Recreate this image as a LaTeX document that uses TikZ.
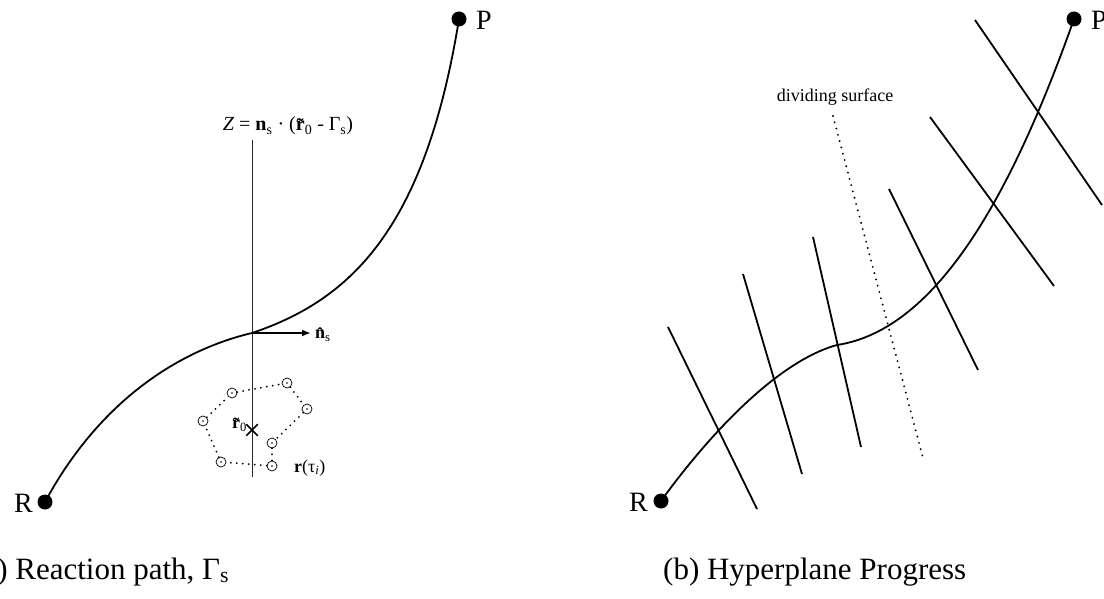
\documentclass[tikz,border=0pt]{standalone}
\usepackage{fontspec}
\setmainfont{Liberation Serif}
\usetikzlibrary{arrows.meta,shapes.misc}
\newcommand\subs[1]{\textsubscript{#1}}
\newcommand\rtil{{\ooalign{\textbf{r}\cr\hidewidth\raisebox{-0.08em}{\textbf{\char"02DC}}\hidewidth\cr}}}
\newcommand\nhat{{\ooalign{\textbf{n}\cr\hidewidth\raisebox{-0.08em}{\textbf{\char"02C6}}\hidewidth\cr}}}
\begin{document}
\begin{tikzpicture}[x=1pt,y=-1pt,
  endpt/.style={circle,fill=black,inner sep=0pt,minimum size=15pt},
  bead/.style={circle,draw,inner sep=0pt,minimum size=10pt,line width=0.7pt,
    path picture={\fill (path picture bounding box.center) circle (0.8pt);}},
  pathline/.style={line width=1.8pt},
  plane/.style={line width=1.8pt},
  ring/.style={line width=2pt,dash pattern=on 0pt off 6pt,line cap=round},
  biglbl/.style={font=\fontsize{28}{32}\selectfont,inner sep=0pt},
  caption/.style={font=\fontsize{31}{36}\selectfont,inner sep=0pt,anchor=base west},
  smalllbl/.style={font=\fontsize{18}{21}\selectfont,inner sep=0pt}]
\useasboundingbox (0,0) rectangle (1104,599);

% ---------- (a) ----------
\node[endpt] (Ra) at (45,502) {};
\node[endpt] (Pa) at (459,19) {};
\node[biglbl,anchor=east] at (33,503) {R};
\node[biglbl,anchor=west] at (476,20) {P};
\coordinate (Ma) at (252,333);
\draw[pathline] (Ra.center) .. controls (100,400) and (180,350) .. (Ma)
  .. controls (350,300) and (425,230) .. (Pa.center);
\coordinate (vtop) at (252,140);
\coordinate (vbot) at (252,477);
\draw[line width=1pt,black!85] (vtop) -- (vbot);
\node[smalllbl,font=\fontsize{20}{23}\selectfont,anchor=base] (zl) at (288,131) {\textit{Z} = \textbf{n}\subs{s} · (\rtil\subs{0} - Γ\subs{s})};
\coordinate (nend) at (311,333);
\draw[line width=1.8pt,-{Latex[length=9pt,width=7pt]}] (Ma) -- (nend);
\node[smalllbl,anchor=west] at (315,336) {\nhat\subs{s}};

\node[bead] (b1) at (232,393) {};
\node[bead] (b2) at (287,383) {};
\node[bead] (b3) at (307,409) {};
\node[bead] (b4) at (272,443) {};
\node[bead] (b5) at (272,466) {};
\node[bead] (b6) at (221,462) {};
\node[bead] (b7) at (203,421) {};
\draw[ring] (b1) -- (b2) -- (b3) -- (b4) -- (b5) -- (b6) -- (b7) -- (b1);
\node[cross out,draw,line width=1.5pt,minimum size=10pt,inner sep=0pt] (x0) at (252,430) {};
\node[smalllbl,anchor=east] at (247,426) {\rtil\subs{0}};
\node[smalllbl,anchor=base west] at (294,472) {\textbf{r}(τ\subs{\textit{i}})};

\node[caption] at (-27,579) {(a) Reaction path, Γ\subs{s}};

% ---------- (b) ----------
\node[endpt] (Rb) at (661,501) {};
\node[endpt] (Pb) at (1074,19) {};
\node[biglbl,anchor=east] at (648,502) {R};
\node[biglbl,anchor=west] at (1091,20) {P};
\coordinate (Mb) at (837,345);
\draw[pathline] (Rb.center) .. controls (705,440) and (775,362) .. (Mb)
  .. controls (935,330) and (1010,200) .. (Pb.center);

\coordinate (h1a) at (668,327); \coordinate (h1b) at (757,509);
\coordinate (h2a) at (743,274); \coordinate (h2b) at (802,474);
\coordinate (h3a) at (813,237); \coordinate (h3b) at (861,447);
\coordinate (h5a) at (889,189); \coordinate (h5b) at (978,370);
\coordinate (h6a) at (930,117); \coordinate (h6b) at (1054,286);
\coordinate (h7a) at (975,20);  \coordinate (h7b) at (1102,205);
\draw[plane] (h1a) -- (h1b);
\draw[plane] (h2a) -- (h2b);
\draw[plane] (h3a) -- (h3b);
\draw[plane] (h5a) -- (h5b);
\draw[plane] (h6a) -- (h6b);
\draw[plane] (h7a) -- (h7b);
\coordinate (da) at (833,116); \coordinate (db) at (923,458);
\draw[line width=2.1pt,dash pattern=on 0pt off 6.5pt,line cap=round] (da) -- (db);
\node[smalllbl,anchor=base] at (835,102) {dividing surface};

\node[caption] at (663,579) {(b) Hyperplane Progress};
\end{tikzpicture}
\end{document}
